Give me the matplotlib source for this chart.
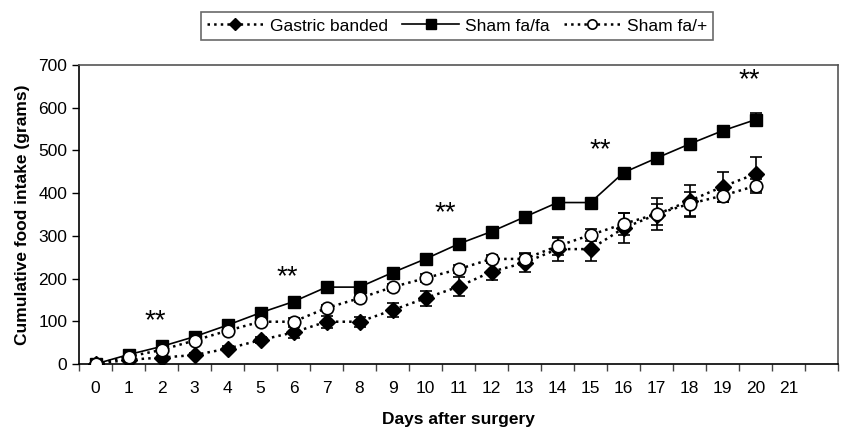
import matplotlib
matplotlib.use("Agg")
import matplotlib.pyplot as plt
from matplotlib.ticker import FixedLocator, NullFormatter

plt.rcParams['font.family'] = ['Liberation Sans', 'DejaVu Sans']

days = list(range(21))
tick_labels = [str(d) for d in range(22)]

# cumulative food intake (g)
gastric_banded = [0, 10, 15, 21, 36, 56, 74, 99, 99, 126, 154, 181, 216, 237, 269, 269, 318, 350, 382, 415, 445]
gastric_err = [0, 3, 4, 5, 6, 8, 12, 14, 12, 16, 18, 22, 20, 22, 28, 27, 35, 25, 38, 35, 40]
sham_fafa = [0, 22, 41, 64, 91, 120, 146, 180, 180, 214, 246, 281, 310, 344, 378, 378, 448, 482, 515, 546, 572]
sham_fafa_err = [0, 3, 4, 5, 5, 6, 6, 6, 6, 7, 7, 8, 8, 8, 9, 9, 12, 12, 12, 12, 15]
sham_faplus = [0, 17, 33, 55, 78, 99, 99, 131, 154, 180, 201, 222, 246, 246, 276, 302, 328, 351, 375, 394, 417]
sham_faplus_err = [0, 3, 4, 5, 6, 6, 8, 8, 8, 8, 10, 10, 10, 12, 20, 15, 25, 38, 28, 14, 17]

# significance markers (day, height)
star_x = [1.8, 5.8, 10.6, 15.3, 19.8]
star_y = [100, 203, 353, 500, 664]

fig = plt.figure(figsize=(8.46, 4.34), dpi=100)
ax = fig.add_axes([79 / 846, (434 - 364) / 434, (838 - 79) / 846, (364 - 65) / 434])

err_kw = dict(fmt='none', ecolor='black', elinewidth=1.2, capsize=4, capthick=1.2)
ax.errorbar(days, gastric_banded, yerr=gastric_err, zorder=2, **err_kw)
ax.errorbar(days, sham_fafa, yerr=sham_fafa_err, zorder=2, **err_kw)
ax.errorbar(days, sham_faplus, yerr=sham_faplus_err, zorder=2, **err_kw)

ax.plot(days, gastric_banded, color='black', linestyle=':', linewidth=1.8,
        marker='D', markersize=8, markerfacecolor='black', label='Gastric banded', zorder=3)
ax.plot(days, sham_fafa, color='black', linestyle='-', linewidth=1.2,
        marker='s', markersize=9, markerfacecolor='black', label='Sham fa/fa', zorder=4)
ax.plot(days, sham_faplus, color='black', linestyle=':', linewidth=1.8,
        marker='o', markersize=9, markerfacecolor='white', markeredgewidth=1.2,
        label='Sham fa/+', zorder=5)

for x, y in zip(star_x, star_y):
    ax.text(x, y, '**', ha='center', va='center', fontsize=20)

ax.set_xlim(-0.5, 22.5)
ax.set_ylim(0, 700)
ax.set_yticks(range(0, 701, 100))
ax.set_xticks(range(22))
ax.set_xticklabels(tick_labels)
ax.xaxis.set_minor_locator(FixedLocator([k + 0.5 for k in range(-1, 23)]))
ax.xaxis.set_minor_formatter(NullFormatter())
ax.tick_params(axis='x', which='major', length=0, pad=12, labelsize=12.5)
ax.tick_params(axis='x', which='minor', length=5, width=1, color='#444444')
ax.tick_params(axis='y', which='major', length=5, width=1, labelsize=12.5)

for side in ['top', 'right']:
    ax.spines[side].set_color('#555555')
    ax.spines[side].set_linewidth(1.2)
for side in ['left', 'bottom']:
    ax.spines[side].set_color('black')
    ax.spines[side].set_linewidth(1.2)

ax.set_xlabel('Days after surgery', fontsize=12.5, fontweight='bold', labelpad=12)
ax.set_ylabel('Cumulative food intake (grams)', fontsize=12.5, fontweight='bold', labelpad=6)

leg = fig.legend(loc='center', bbox_to_anchor=(457 / 846, 1 - 26 / 434), ncol=3,
                 fontsize=12.5, frameon=True, fancybox=False, handlelength=3.3,
                 columnspacing=0.8, handletextpad=0.35, borderpad=0.35, markerscale=0.75)
leg.get_frame().set_edgecolor('#444444')
leg.get_frame().set_linewidth(1.2)

fig.savefig('out.png', dpi=100)
